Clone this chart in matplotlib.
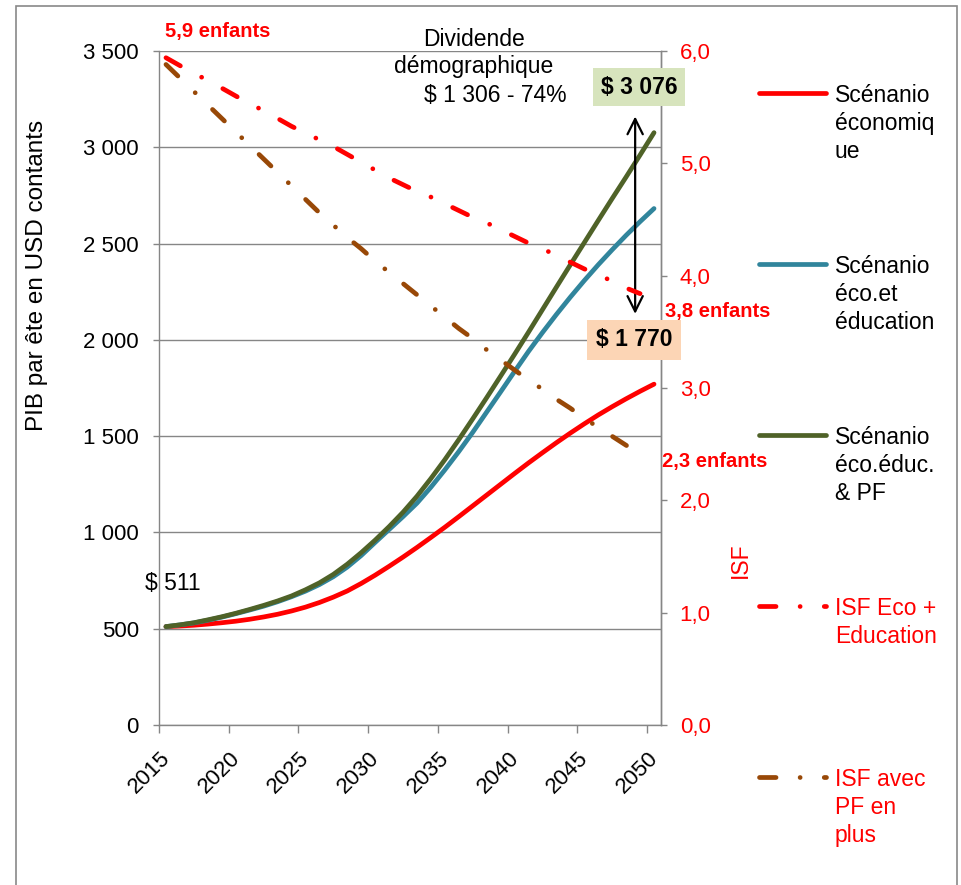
import numpy as np
import matplotlib
matplotlib.use("Agg")
import matplotlib.pyplot as plt
from matplotlib.lines import Line2D
from matplotlib.patches import Rectangle
from matplotlib.transforms import ScaledTranslation

plt.rcParams["font.family"] = ["Liberation Sans", "DejaVu Sans"]

W, H = 962, 885

# ── data ──
years = list(range(2015, 2051))
pib_eco = [511, 514, 518, 524, 531, 539, 549, 561, 575, 592, 612, 636, 664, 696, 735, 778,
           824, 872, 922, 974, 1027, 1082, 1138, 1194, 1250, 1306, 1361, 1414, 1466, 1516,
           1564, 1610, 1653, 1694, 1733, 1770]
pib_edu = [511, 520, 530, 544, 560, 578, 597, 617, 640, 666, 695, 729, 770, 820, 880, 948,
           1015, 1082, 1152, 1235, 1325, 1420, 1520, 1625, 1730, 1836, 1940, 2038, 2132, 2222,
           2308, 2390, 2468, 2543, 2614, 2682]
pib_pf = [511, 520, 531, 546, 562, 580, 600, 621, 644, 670, 702, 738, 782, 835, 895, 960,
          1030, 1105, 1188, 1280, 1378, 1482, 1590, 1700, 1812, 1925, 2040, 2157, 2274, 2390,
          2505, 2620, 2734, 2846, 2960, 3076]

isf_years = list(range(2015, 2050))
isf_edu = [5.94, 5.87, 5.80, 5.74, 5.67, 5.60, 5.53, 5.47, 5.40, 5.33, 5.27, 5.21, 5.15, 5.08,
           5.01, 4.94, 4.87, 4.81, 4.75, 4.70, 4.64, 4.58, 4.52, 4.47, 4.41, 4.35, 4.29, 4.24,
           4.18, 4.12, 4.06, 4.01, 3.95, 3.89, 3.84]
isf_pf = [5.88, 5.76, 5.64, 5.52, 5.40, 5.28, 5.16, 5.04, 4.92, 4.80, 4.68, 4.56, 4.45, 4.34,
          4.24, 4.13, 4.03, 3.93, 3.83, 3.73, 3.63, 3.53, 3.44, 3.34, 3.25, 3.16, 3.07, 2.99,
          2.90, 2.82, 2.73, 2.65, 2.57, 2.49, 2.41]

year_ticks = [2015, 2020, 2025, 2030, 2035, 2040, 2045, 2050]
pib_ticks = [0, 500, 1000, 1500, 2000, 2500, 3000, 3500]
pib_labels = ["0", "500", "1 000", "1 500", "2 000", "2 500", "3 000", "3 500"]
isf_ticks = [0, 1, 2, 3, 4, 5, 6]
isf_labels = ["0,0", "1,0", "2,0", "3,0", "4,0", "5,0", "6,0"]

series_names = ["Scénanio\néconomiq\nue", "Scénanio\néco.et\néducation",
                "Scénanio\néco.éduc.\n& PF", "ISF Eco +\nEducation", "ISF avec\nPF en\nplus"]

RED = "#FF0000"
BLUE = "#31859C"
GREEN = "#4F6228"
BROWN = "#984807"
GRAY = "#868686"
DASHDOT = (0, (3.5, 5.1, 0.01, 5.1))


def fpos(x, y):
    return x / W, 1 - y / H


fig = plt.figure(figsize=(W / 100, H / 100), dpi=100)
fig.patches.append(Rectangle((16 / W, -0.05), (957 - 16) / W, 1.05 - 6 / H,
                             transform=fig.transFigure, fill=False,
                             edgecolor="#898989", lw=1.2))

ax = fig.add_axes([159 / W, 1 - 725 / H, (661 - 159) / W, (725 - 51) / H])
ax2 = ax.twinx()

# category centres
xp = np.array(years) + 0.5
xi = np.array(isf_years) + 0.5

lw = 3.4
ax.plot(xp, pib_eco, color=RED, lw=lw, solid_capstyle="round", zorder=3)
ax.plot(xp, pib_edu, color=BLUE, lw=lw, solid_capstyle="round", zorder=3)
ax.plot(xp, pib_pf, color=GREEN, lw=lw, solid_capstyle="round", zorder=3)
ax2.plot(xi, isf_edu, color=RED, lw=lw, ls=DASHDOT, dash_capstyle="round")
ax2.plot(xi, isf_pf, color=BROWN, lw=lw, ls=DASHDOT, dash_capstyle="round")

ax.set_xlim(2015, 2051)
ax.set_ylim(0, 3500)
ax2.set_ylim(0, 6)

ax.set_yticks(pib_ticks)
ax.set_yticklabels(pib_labels)
ax2.set_yticks(isf_ticks)
ax2.set_yticklabels(isf_labels)
ax.set_xticks(year_ticks)
ax.set_xticklabels([])
# rotated year labels, anchored right of each tick like the spreadsheet chart
lab_tr = ax.get_xaxis_transform() + ScaledTranslation(8 / 100, -30 / 100, fig.dpi_scale_trans)
for yv in year_ticks:
    ax.text(yv, 0, str(yv), transform=lab_tr, rotation=45, ha="right", va="center",
            rotation_mode="anchor", fontsize=16, clip_on=False)

ax.yaxis.grid(True, color=GRAY, lw=1.0)
ax.set_axisbelow(True)
ax.spines["top"].set_visible(False)
for s in ["left", "bottom", "right"]:
    ax.spines[s].set_color(GRAY)
    ax.spines[s].set_linewidth(1.0)
for s in ["top", "left", "bottom"]:
    ax2.spines[s].set_visible(False)
ax2.spines["right"].set_color(GRAY)
ax2.spines["right"].set_linewidth(1.0)

ax.tick_params(axis="y", direction="out", length=4.5, width=1.0, color=GRAY,
               labelsize=16, pad=10)
ax.tick_params(axis="x", direction="out", length=5.5, width=1.0, color=GRAY)
ax2.tick_params(axis="y", direction="out", length=4.5, width=1.0, color=GRAY,
                labelsize=16, labelcolor=RED, pad=9)

ax.set_ylabel("PIB par ête en USD contants", fontsize=17.5)
ax.yaxis.set_label_coords(48 / W, 1 - 275 / H, transform=fig.transFigure)
fig.text(*fpos(740, 560), "ISF", color=RED, fontsize=16.5, rotation=90,
         ha="center", va="center")

# ── annotations ──
fig.text(*fpos(165, 31), "5,9 enfants", color=RED, fontsize=14.5, fontweight="bold",
         ha="left", va="center")
fig.text(*fpos(665, 311), "3,8 enfants", color=RED, fontsize=14.5, fontweight="bold",
         ha="left", va="center")
fig.text(*fpos(662, 462), "2,3 enfants", color=RED, fontsize=14.5, fontweight="bold",
         ha="left", va="center")
fig.text(*fpos(145, 584), "$ 511", fontsize=16.5, ha="left", va="center")
fig.text(*fpos(474, 39), "Dividende", fontsize=16.5, ha="center", va="center")
fig.text(*fpos(474, 67), "démographique", fontsize=16.5, ha="center", va="center")
fig.text(*fpos(567, 95), "$ 1 306 - 74%", fontsize=16.5, ha="right", va="center")

fig.text(*fpos(639, 87), "$ 3 076", fontsize=16.5, fontweight="bold", ha="center",
         va="center", bbox=dict(boxstyle="square,pad=0.32", fc="#D7E4BD", ec="none"))
fig.text(*fpos(634, 340), "$ 1 770", fontsize=16.5, fontweight="bold", ha="center",
         va="center", bbox=dict(boxstyle="square,pad=0.38", fc="#FCD5B5", ec="none"))

arrow_x = 2015 + (635 - 159) / 13.94
ax.annotate("", xy=(arrow_x, 3160), xytext=(arrow_x, 2135),
            arrowprops=dict(arrowstyle="<->,head_length=1.1,head_width=0.55",
                            color="black", lw=1.6, shrinkA=0, shrinkB=0),
            annotation_clip=False)

# ── legend (manual, right side) ──
leg_y = [93, 264, 435, 606, 777]
leg_colors = [RED, BLUE, GREEN, RED, BROWN]
leg_styles = ["-", "-", "-", DASHDOT, DASHDOT]
leg_text_colors = ["black", "black", "black", RED, RED]
for y, name, c, ls, tc in zip(leg_y, series_names, leg_colors, leg_styles, leg_text_colors):
    x0, y0 = fpos(759, y)
    x1, _ = fpos(826, y)
    fig.add_artist(Line2D([x0, x1], [y0, y0], transform=fig.transFigure, color=c,
                          lw=lw, ls=ls, solid_capstyle="round", dash_capstyle="round"))
    fig.text(*fpos(835, y - 9), name, color=tc, fontsize=16.5, ha="left", va="top",
             linespacing=1.27)

fig.savefig("out.png", dpi=100, facecolor="white")
